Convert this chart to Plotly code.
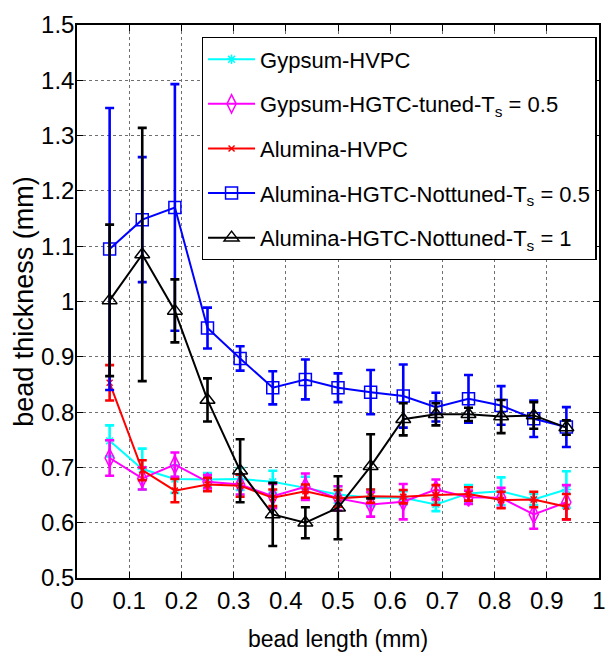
import plotly.graph_objects as go

bead_length = [0.0625, 0.125, 0.1875, 0.25, 0.3125, 0.375, 0.4375, 0.5,
               0.5625, 0.625, 0.6875, 0.75, 0.8125, 0.875, 0.9375]

gypsum_hvpc = [0.748, 0.697, 0.679, 0.678, 0.679, 0.674, 0.663, 0.651,
               0.645, 0.645, 0.633, 0.653, 0.657, 0.642, 0.660]
gypsum_hvpc_err = [0.028, 0.037, 0.025, 0.012, 0.020, 0.020, 0.020, 0.015,
                   0.015, 0.012, 0.012, 0.015, 0.025, 0.010, 0.033]

gypsum_hgtc = [0.717, 0.680, 0.705, 0.674, 0.669, 0.648, 0.665, 0.644,
               0.633, 0.638, 0.660, 0.646, 0.645, 0.615, 0.637]
gypsum_hgtc_err = [0.032, 0.020, 0.022, 0.012, 0.018, 0.022, 0.024, 0.022,
                   0.022, 0.032, 0.018, 0.012, 0.018, 0.026, 0.031]

alumina_hvpc = [0.853, 0.695, 0.658, 0.669, 0.667, 0.645, 0.657, 0.644,
                0.648, 0.647, 0.650, 0.652, 0.641, 0.642, 0.629]
alumina_hvpc_err = [0.032, 0.018, 0.021, 0.012, 0.020, 0.015, 0.012, 0.015,
                    0.012, 0.012, 0.018, 0.012, 0.015, 0.014, 0.023]

alumina_nt05 = [1.095, 1.148, 1.170, 0.952, 0.897, 0.844, 0.859, 0.844,
                0.836, 0.829, 0.809, 0.824, 0.812, 0.788, 0.773]
alumina_nt05_err = [0.255, 0.113, 0.223, 0.037, 0.022, 0.030, 0.036, 0.026,
                    0.040, 0.057, 0.026, 0.043, 0.035, 0.033, 0.036]

alumina_nt1 = [1.002, 1.085, 0.983, 0.822, 0.694, 0.615, 0.600, 0.627,
               0.702, 0.787, 0.796, 0.796, 0.792, 0.794, 0.772]
alumina_nt1_err = [0.137, 0.229, 0.057, 0.039, 0.057, 0.057, 0.028, 0.057,
                   0.058, 0.029, 0.020, 0.012, 0.030, 0.024, 0.013]

x_ticks = [0, 0.1, 0.2, 0.3, 0.4, 0.5, 0.6, 0.7, 0.8, 0.9, 1]
x_tick_text = ["0", "0.1", "0.2", "0.3", "0.4", "0.5", "0.6", "0.7", "0.8", "0.9", "1"]
y_ticks = [0.5, 0.6, 0.7, 0.8, 0.9, 1.0, 1.1, 1.2, 1.3, 1.4, 1.5]
y_tick_text = ["0.5", "0.6", "0.7", "0.8", "0.9", "1", "1.1", "1.2", "1.3", "1.4", "1.5"]

FONT = "Liberation Sans, Arial, sans-serif"

series = [
    ("Gypsum-HVPC", gypsum_hvpc, gypsum_hvpc_err, "#00FFFF", "asterisk-open", 8),
    ("Gypsum-HGTC-tuned-T<sub>s</sub> = 0.5", gypsum_hgtc, gypsum_hgtc_err, "#FF00FF", "diamond-tall-open", 13),
    ("Alumina-HVPC", alumina_hvpc, alumina_hvpc_err, "#FF0000", "x-thin-open", 6),
    ("Alumina-HGTC-Nottuned-T<sub>s</sub> = 0.5", alumina_nt05, alumina_nt05_err, "#0000FF", "square-open", 12),
    ("Alumina-HGTC-Nottuned-T<sub>s</sub> = 1", alumina_nt1, alumina_nt1_err, "#000000", "triangle-up-open", 13),
]

fig = go.Figure()
for i, (name, y, err, color, symbol, size) in enumerate(series):
    fig.add_trace(go.Scatter(
        x=bead_length, y=y, name=name, mode="lines+markers",
        legendgroup="g%d" % i,
        line=dict(color=color, width=2),
        marker=dict(symbol=symbol, size=size, color=color,
                    line=dict(color=color, width=1.5)),
        error_y=dict(type="data", array=err, visible=True, color=color,
                     thickness=2.6, width=4.5),
    ))

axis_common = dict(
    showline=True, linecolor="black", linewidth=1.5, mirror="ticks",
    ticks="inside", ticklen=6, tickcolor="black", tickwidth=1,
    showgrid=True, gridcolor="#6f6f6f", griddash="dot", gridwidth=1,
    zeroline=False, ticklabeloverflow="allow",
    tickfont=dict(family=FONT, size=24, color="black"),
)

fig.update_xaxes(range=[0, 1], tickvals=x_ticks, ticktext=x_tick_text,
                 title=dict(text="bead length (mm)",
                            font=dict(family=FONT, size=23, color="black"),
                            standoff=18),
                 ticklabelstandoff=0,
                 **axis_common)
fig.update_yaxes(range=[0.5, 1.5], tickvals=y_ticks, ticktext=y_tick_text,
                 title=dict(text="bead thickness (mm)",
                            font=dict(family=FONT, size=27, color="black"),
                            standoff=0),
                 ticklabelstandoff=-4,
                 **axis_common)

fig.update_layout(
    width=610, height=654,
    margin=dict(l=77, r=11, t=25, b=76, autoexpand=False),
    plot_bgcolor="white", paper_bgcolor="white",
    showlegend=True,
    legend=dict(x=0.239, y=0.978, xanchor="left", yanchor="top",
                bgcolor="white", bordercolor="black", borderwidth=1.3,
                font=dict(family=FONT, size=22, color="black"),
                itemwidth=47, tracegroupgap=13),
)

fig.write_html("out.html",
               config={"displayModeBar": False},
               post_script="document.body.style.margin='0px';document.body.style.overflow='hidden';")
